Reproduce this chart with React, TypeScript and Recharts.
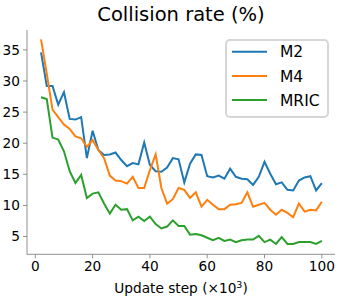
import React from 'react';
import { LineChart, Line, XAxis, YAxis, Legend } from 'recharts';

const steps = [2, 4, 6, 8, 10, 12, 14, 16, 18, 20, 22, 24, 26, 28, 30, 32, 34, 36, 38, 40, 42, 44, 46, 48, 50, 52, 54, 56, 58, 60, 62, 64, 66, 68, 70, 72, 74, 76, 78, 80, 82, 84, 86, 88, 90, 92, 94, 96, 98, 100];

const m2 = [34.6, 29.2, 29.2, 26.2, 28.2, 23.9, 23.8, 24.2, 17.6, 22.0, 18.9, 18.1, 18.2, 18.5, 17.3, 16.3, 16.8, 16.6, 20.1, 16.5, 15.5, 15.4, 16.1, 17.6, 17.4, 13.7, 16.7, 18.2, 18.1, 14.7, 14.5, 14.8, 14.3, 15.9, 14.6, 14.3, 14.2, 13.3, 14.6, 17.0, 15.1, 13.4, 13.7, 12.5, 12.4, 14.0, 14.5, 14.7, 12.4, 13.6];

const m4 = [36.7, 31.2, 25.4, 24.2, 23.0, 22.3, 21.1, 20.8, 19.4, 20.5, 18.9, 17.6, 14.8, 14.0, 13.9, 13.5, 14.6, 12.8, 12.8, 15.7, 18.2, 12.8, 10.3, 11.0, 12.8, 12.5, 11.2, 12.1, 9.8, 10.9, 10.1, 9.4, 9.4, 10.1, 10.2, 10.4, 12.1, 9.8, 10.1, 10.4, 9.3, 8.5, 9.3, 8.8, 8.1, 10.3, 9.0, 9.3, 9.2, 10.6];

const mric = [27.4, 27.1, 20.9, 20.6, 18.7, 15.5, 13.6, 14.9, 11.2, 11.9, 12.1, 10.3, 8.7, 10.1, 9.3, 9.4, 7.6, 8.2, 7.5, 8.2, 7.0, 6.3, 6.6, 7.6, 6.7, 6.7, 5.3, 5.4, 5.2, 4.8, 4.4, 4.8, 4.3, 4.5, 4.1, 4.4, 4.5, 4.5, 5.1, 4.1, 4.5, 3.8, 4.9, 3.8, 3.8, 4.1, 4.1, 4.1, 3.8, 4.3];

const seriesNames = ['M2', 'M4', 'MRIC'];
const seriesColors = ['#1f77b4', '#ff7f0e', '#2ca02c'];
const xTicks = [0, 20, 40, 60, 80, 100];
const yTicks = [5, 10, 15, 20, 25, 30, 35];
const titleText = 'Collision rate (%)';

const data = steps.map((s, i) => ({ step: s, M2: m2[i], M4: m4[i], MRIC: mric[i] }));

const FONT = 'DejaVu Sans';
const AXIS_COLOR = '#8f8f8f';

const LegendBox = () => (
  <svg width={104} height={80} style={{ display: 'block' }}>
    <rect x={1} y={1} width={102} height={77} rx={4} ry={4} fill="#ffffff" fillOpacity={0.8} stroke="#d6d6d6" strokeWidth={2} />
    {seriesNames.map((n, i) => {
      const cy = 12.7 + 24.2 * i;
      return (
        <g key={n}>
          <line x1={7} x2={42} y1={cy} y2={cy} stroke={seriesColors[i]} strokeWidth={2} />
          <text x={55} y={cy + 5.6} fontSize={15.5} fontFamily={FONT} fill="#000">{n}</text>
        </g>
      );
    })}
  </svg>
);

const XLabel = (props: any) => {
  const vb = props.viewBox || {};
  const cx = vb.x + vb.width / 2;
  return (
    <text x={cx} y={vb.y + 39} textAnchor="middle" fontSize={13.7} fontFamily={FONT} fill="#000">
      <tspan>Update step (×10</tspan>
      <tspan fontSize={9.5} dy={-5.5}>3</tspan>
      <tspan dy={5.5}>)</tspan>
    </text>
  );
};

export default function App() {
  return (
    <div style={{ position: 'absolute', left: 0, top: 0, width: 340, height: 300, background: '#fff' }}>
      <svg width={340} height={30} style={{ position: 'absolute', left: 0, top: 0 }}>
        <text x={181} y={21} textAnchor="middle" fontSize={19.5} fontFamily={FONT} fill="#000">{titleText}</text>
      </svg>
      <LineChart width={340} height={300} data={data} margin={{ top: 30, right: 5, bottom: 0, left: 0 }}>
        <XAxis
          dataKey="step"
          type="number"
          domain={[-2.9, 104.6]}
          allowDataOverflow
          ticks={xTicks}
          height={45.7}
          tickSize={4}
          tickMargin={3}
          stroke={AXIS_COLOR}
          tick={{ fill: '#000', fontSize: 13.7, fontFamily: FONT }}
          label={<XLabel />}
        />
        <XAxis xAxisId="top" orientation="top" type="number" domain={[-2.9, 104.6]} allowDataOverflow height={0} tick={false} tickLine={false} stroke={AXIS_COLOR} />
        <YAxis
          type="number"
          domain={[2.14, 38.2]}
          allowDataOverflow
          ticks={yTicks}
          width={27}
          tickSize={4}
          tickMargin={3}
          stroke={AXIS_COLOR}
          tick={{ fill: '#000', fontSize: 13.7, fontFamily: FONT }}
        />
        <YAxis yAxisId="right" orientation="right" type="number" domain={[2.14, 38.2]} allowDataOverflow width={0} tick={false} tickLine={false} stroke={AXIS_COLOR} />
        {seriesNames.map((n, i) => (
          <Line key={n} type="linear" dataKey={n} stroke={seriesColors[i]} strokeWidth={2} dot={false} isAnimationActive={false} />
        ))}
        <Legend
          layout="horizontal"
          verticalAlign="middle"
          align="center"
          content={<LegendBox />}
          wrapperStyle={{ left: 225, top: 39, width: 104, height: 80, right: 'auto', bottom: 'auto' }}
        />
      </LineChart>
    </div>
  );
}
